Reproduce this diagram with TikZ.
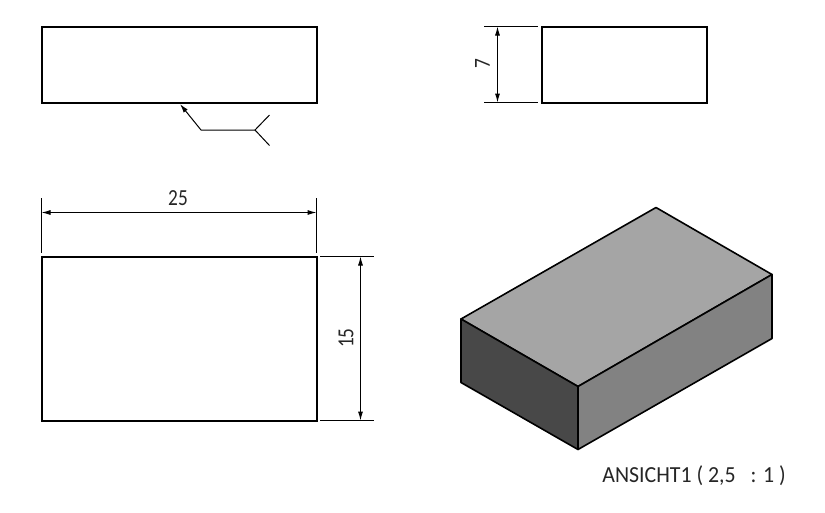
\documentclass[tikz,border=0pt]{standalone}
\usepackage{fontspec}
\setmainfont{Carlito}
\newfontfamily\dimfont[FakeStretch=0.84]{Carlito}
\newfontfamily\titlefont[FakeStretch=0.95]{Carlito}
\usetikzlibrary{arrows.meta}
\tikzset{
  viewbox/.style={rectangle,draw=black,line width=2pt,outer sep=0pt,inner sep=0pt},
  helpline/.style={black,line width=1pt},
  dimline/.style={black,line width=1pt,{Latex[length=9pt,width=5pt]}-{Latex[length=9pt,width=5pt]}},
  dimtext/.style={inner sep=0pt,font=\dimfont\fontsize{23}{23}\selectfont,text=black!85},
  face/.style={draw=black,line width=1.6pt,line join=round}
}
\begin{document}
\begin{tikzpicture}[x=1pt,y=-1pt]
\useasboundingbox (0,0) rectangle (825,512);
%views
\path (179.5,65) node(top)[viewbox,minimum width=275pt,minimum height=76pt]{}
(624.5,65) node(side)[viewbox,minimum width=165pt,minimum height=76pt]{}
(179.5,339) node(front)[viewbox,minimum width=275pt,minimum height=164pt]{}
(178,198) node(w)[dimtext]{25}
(346,338) node(h)[dimtext,rotate=90]{15}
(482.5,64) node(d)[dimtext,rotate=90]{7}
(694,476) node(title)[dimtext,font=\titlefont\fontsize{23}{23}\selectfont]{ANSICHT1 ( 2,5 \ \ : 1 )};
%weld symbol
\coordinate (tip) at (180,104);
\coordinate (knee) at (201,130);
\coordinate (fork) at (255,130);
\draw[helpline,-{Latex[length=9pt,width=5pt]}](fork)--(knee)--(tip);
\draw[helpline](269.5,115)--(fork)--(269.5,145.5);
%dimension 7
\draw[helpline](484,26.5)--(537.5,26.5);
\draw[helpline](484,102.5)--(537.5,102.5);
\draw[dimline](497.5,26.5)--(497.5,102.5);
%dimension 25
\draw[helpline](41.5,198)--(41.5,252.5);
\draw[helpline](316.5,198)--(316.5,252.5);
\draw[dimline](41.5,212.5)--(316.5,212.5);
%dimension 15
\draw[helpline](320,256.5)--(374,256.5);
\draw[helpline](320,420.5)--(374,420.5);
\draw[dimline](360.5,256.5)--(360.5,420.5);
%block
\coordinate (l) at (461,319);
\coordinate (b) at (656,207.5);
\coordinate (r) at (772,274.5);
\coordinate (f) at (578,386.5);
\coordinate (fb) at (578,449.5);
\coordinate (lb) at (461,382.5);
\coordinate (rb) at (772,338.5);
\draw[face,fill={rgb,255:red,165;green,165;blue,165}](l)--(b)--(r)--(f)--cycle;
\draw[face,fill={rgb,255:red,130;green,130;blue,130}](f)--(r)--(rb)--(fb)--cycle;
\draw[face,fill={rgb,255:red,72;green,72;blue,72}](l)--(f)--(fb)--(lb)--cycle;
\end{tikzpicture}
\end{document}
